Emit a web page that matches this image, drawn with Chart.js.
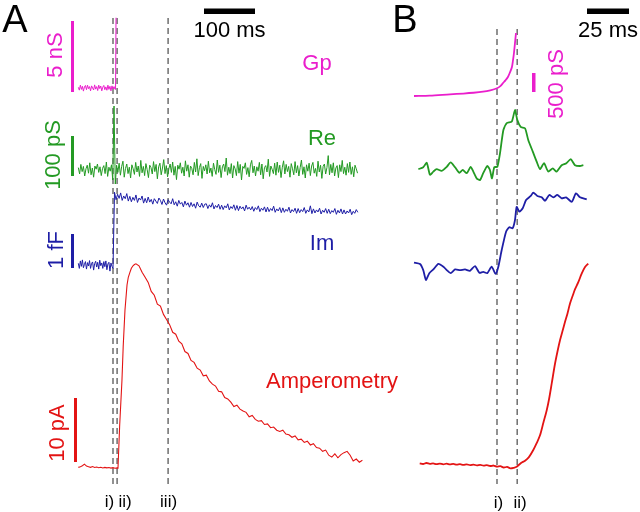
<!DOCTYPE html>
<html>
<head>
<meta charset="utf-8">
<script src="https://cdn.jsdelivr.net/npm/chart.js@4.4.0/dist/chart.umd.min.js"></script>
<style>
  html, body { margin: 0; padding: 0; background: #fff; }
  #wrap { position: relative; width: 640px; height: 512px; overflow: hidden; }
  #panelA { position: absolute; left: 0; top: 0; }
  #panelB { position: absolute; left: 380px; top: 0; }
</style>
</head>
<body>
<div id="wrap">
  <canvas id="panelA" width="420" height="512"></canvas>
  <canvas id="panelB" width="260" height="512"></canvas>
</div>
<script>
// ---------- Panel A (time in ms, 0 = event i) ----------
const markerTimesA = [0, 8, 108];
const markerLabelsA = ['i)', 'ii)', 'iii)'];

// Gp (nS)
const gpStartA = -68, gpStepA = 2;
const gpValsA = [0.05, -0.15, 0.2, -0.1, 0.12, -0.22, 0.08, 0.18, -0.12, 0.2, -0.05, 0.1, -0.2, 0.15, 0.0, -0.14, 0.22, -0.08, 0.1,
  -0.18, 0.2, -0.04, 0.14, -0.2, 0.06, 0.18, -0.12, 0.08, -0.16, 0.2, -0.1, 0.12, -0.2, 0.15, -0.06, 0.1, -0.1];
const gpRiseTimesA = [5, 5.9];
const gpRiseValsA = [0.0, 4.95];

// Re (pS)
const reStartA = -68, reStepA = 2.5;
const reValsA = [
  6, -10, 14, -4, 9, -15, 3, 12, -8, 18,
  -12, 5, -18, 10, 2, 15, -6, 8, -14, 4,
  11, -9, 20, -16, 7, -3, 13, -25, 160, -35,
  12, -6, 17, -13, 9, 22, -18, 4, 15, -9,
  7, -20, 13, 3, -11, 19, -5, 10, -16, 24,
  -7, 9, -14, 16, 1, -19, 12, 6, -10, 21,
  -4, 14, -22, 8, 17, -12, 5, 26, -9, 11,
  -17, 3, 15, -6, 20, -13, 9, -24, 12, 2,
  18, -8, 7, -15, 23, -3, 13, -18, 10, 4,
  -12, 19, -5, 28, -14, 6, 16, -21, 9, -2,
  13, -10, 22, -7, 5, -16, 17, 1, -11, 25,
  -6, 12, -19, 8, 15, -4, 30, -13, 7, -9,
  16, -20, 11, 3, -14, 21, -8, 14, -25, 9,
  4, 18, -11, 6, -17, 13, 24, -7, 10, -15,
  8, -3, 19, -12, 15, -22, 6, 11, -5, 27,
  -16, 10, 2, -9, 17, -13, 20, -6, 12, -19,
  7, 23, -10, 14, -4, 9, -18, 16, 3, -12,
  21, -7, 11, -15, 6, 25, -11, 8, -20, 13,
  -3, 17, -14, 10, 19, -8, 4, -16, 22, -5,
  12, -21, 9, 15, -10, 6, 36, -12, 14, -7,
  18, -15, 5, 11, -19, 13, -4, 24, -9, 7,
  -13, 16, -6, 20, -11, 8, -17, 12, 3, -8
];

// Im (fF)
const imPreStartA = -68, imPreStepA = 2;
const imPreValsA = [0.05, -0.1, 0.12, -0.04, 0.15, -0.08, 0.02, 0.1, -0.12, 0.07,
  -0.03, 0.13, -0.1, 0.05, 0.09, -0.15, 0.04, 0.11, -0.06, 0.08,
  -0.12, 0.14, -0.02, 0.06, -0.1, 0.1, -0.05, 0.12, -0.14, 0.03,
  0.08, -0.18, 0.06, -0.04, -0.1];
const imPostStartA = 3, imPostStepA = 3;
const imPostValsA = [
  2.14, 1.92, 2.08, 1.96, 2.12, 1.9, 2.03, 1.95, 2.1, 1.88,
  2.02, 1.86, 1.99, 1.9, 2.06, 1.84, 1.97, 1.91, 2.03, 1.82,
  1.96, 1.83, 2.0, 1.85, 1.93, 1.79, 1.95, 1.88, 1.81, 1.97,
  1.9, 1.78, 1.94, 1.83, 1.76, 1.92, 1.85, 1.8, 1.95, 1.77,
  1.86, 1.73, 1.9, 1.79, 1.84, 1.71, 1.88, 1.76, 1.83, 1.7,
  1.84, 1.72, 1.8, 1.67, 1.85, 1.74, 1.7, 1.82, 1.69, 1.79,
  1.8, 1.66, 1.77, 1.7, 1.83, 1.65, 1.75, 1.69, 1.79, 1.64,
  1.76, 1.63, 1.74, 1.68, 1.8, 1.62, 1.72, 1.66, 1.77, 1.61,
  1.75, 1.6, 1.73, 1.65, 1.71, 1.59, 1.76, 1.64, 1.7, 1.62,
  1.72, 1.58, 1.69, 1.63, 1.74, 1.57, 1.67, 1.61, 1.71, 1.56,
  1.7, 1.57, 1.66, 1.6, 1.73, 1.55, 1.65, 1.59, 1.69, 1.54,
  1.68, 1.55, 1.64, 1.58, 1.7, 1.53, 1.63, 1.57, 1.67, 1.52,
  1.66, 1.54, 1.63, 1.57, 1.69, 1.52, 1.62, 1.56, 1.74, 1.51,
  1.65, 1.53, 1.62, 1.56, 1.67, 1.5, 1.61, 1.55, 1.66, 1.52,
  1.64, 1.51, 1.6, 1.55, 1.66, 1.49, 1.61, 1.53, 1.65, 1.5,
  1.62, 1.5, 1.59, 1.53, 1.64, 1.48, 1.58, 1.52, 1.63, 1.55
];

// Amperometry (pA)
const ampPreTimesA = [-68, -64, -60, -56, -52, -48, -44, -40, -36, -32, -28, -24, -20, -16, -12, -8, -4, 0, 4, 8,
  9.8, 13, 17.6, 20, 23.5, 27.5, 30, 33.3, 36, 39.2, 42];
const ampPreValsA = [0.1, 0.2, 0.35, 0.6, 0.3, 0.2, 0.1, 0.22, 0.08, 0.15, 0.05, 0.12, 0.0, 0.1, 0.02, 0.08, -0.02, 0.06, -0.04, 0.02,
  0.0, 6.5, 13.75, 19, 24.7, 28.6, 29.8, 30.6, 31.2, 31.6, 31.8];
const ampDecayStartA = 45, ampDecayStepA = 6;
const ampDecayValsA = [
  31.9, 31.6, 30.6, 29.8, 29.0, 27.6, 27.0, 25.6, 25.3, 24.0,
  23.2, 22.4, 21.2, 20.9, 19.8, 19.4, 18.2, 17.9, 16.8, 16.5,
  15.6, 15.3, 14.4, 14.5, 13.6, 13.1, 12.8, 12.0, 11.9, 11.0,
  10.8, 10.3, 9.6, 9.8, 9.2, 8.9, 8.7, 8.0, 8.2, 7.6,
  7.3, 7.4, 6.8, 6.9, 6.3, 6.4, 5.9, 5.7, 5.9, 5.3,
  5.2, 4.8, 5.0, 4.4, 4.5, 4.0, 4.2, 3.6, 3.8, 3.2,
  3.1, 2.6, 2.8, 2.0, 1.7, 2.2, 1.6, 2.1, 2.4, 2.6,
  2.0, 1.1, 1.4, 0.9, 1.2
];

// ---------- Panel B (time in ms, 0 = event i) ----------
const markerTimesB = [0, 12];
const markerLabelsB = ['i)', 'ii)'];

// Gp (pS)
const gpTimesB = [-49.4, -40, -28, -20, -14, -8.3, -4, 0, 2, 3.6, 5, 6.5, 7.7, 8.9, 9.5, 10.1, 11.3];
const gpValsB = [0, 10, 45, 65, 85, 113, 150, 203, 260, 342, 410, 500, 620, 763, 930, 1131, 1658];

// Re (pS)
const reTimesB = [-46.8, -43.9, -41.8, -39.9, -37.9, -35.9, -32.9, -29.9, -27.6, -25.0, -22.4, -20.4, -18.0, -15.7, -14.1,
  -12.1, -10.1, -8.2, -5.8, -4.2, -3.0, -1.6, 0.2, 1.8, 3.8, 5.8, 8.8, 10.7, 12.1, 14.1,
  16.7, 18.6, 21.3, 23.6, 25.6, 28.0, 30.5, 33.2, 35.5, 38.5, 41.3, 43.9, 46.4, 49.4, 51.4];
const reValsB = [2, 7, 18, -12, -4, 2, -2, 8, 19, 7, -7, 0, -8, 8, -4,
  -21, -25, -8, 10, 0, -21, 7, 8, 42, 100, 117, 121, 150, 125, 108,
  104, 75, 46, 21, 2, 17, -4, 4, -4, 12, 17, 27, 12, 10, 12];

// Im (fF)
const imTimesB = [-49.4, -45.8, -43.9, -42.3, -40.3, -37.9, -34.9, -31.9, -29.9, -27.6, -25.0, -22.0, -19.0, -16.1, -13.1,
  -10.5, -8.2, -5.8, -3.2, -0.8, 0.8, 2.8, 5.4, 7.3, 9.3, 10.7, 11.7, 13.3, 15.3, 17.3,
  20.1, 21.6, 24.0, 26.6, 28.6, 31.1, 33.5, 35.9, 38.5, 41.1, 44.5, 47.0, 49.4, 53.4];
const imValsB = [0.07, 0.03, -0.15, -0.44, -0.24, -0.13, 0.03, -0.05, -0.15, -0.24, -0.13, -0.15, -0.13, -0.17, -0.03,
  -0.23, -0.2, -0.24, -0.05, -0.26, -0.05, 0.44, 0.98, 1.11, 1.08, 1.32, 1.71, 1.57, 1.67, 1.91,
  2.03, 2.13, 2.03, 1.99, 1.89, 2.06, 1.99, 2.06, 1.96, 1.99, 1.86, 2.11, 1.99, 1.93];

// Amperometry (pA)
const ampTimesB = [-46, -44, -42, -40, -38, -36, -34, -32, -30, -28, -26, -24, -22, -20, -18, -16, -14, -12, -10, -8,
  -6, -4, -2, 0, 2, 4, 6, 8, 10, 11.7, 14.3, 16.7, 19, 21.6, 23.6, 25.6, 27.6, 29.6, 31, 32.6,
  34.5, 36, 37.5, 39, 40.5, 42, 43.5, 45, 46.4, 48.4, 50.4, 52.4, 54.3];
const ampValsB = [0.26, 0.15, 0.3, 0.18, 0.25, 0.12, 0.22, 0.1, 0.2, 0.08, 0.16, 0.05, 0.12, 0.02, 0.1, -0.03, 0.06, -0.06, 0.02, -0.1,
  -0.02, -0.15, -0.08, -0.26, -0.18, -0.38, -0.3, -0.5, -0.42, -0.26, 0.3, 0.65, 1.2, 2.27, 3.3, 4.5, 6.4, 8.3, 10, 12.4,
  15.3, 17.2, 18.9, 20.3, 21.7, 23, 24.5, 25.6, 26.6, 27.7, 29.0, 30.0, 30.5];

// ---------- styles ----------
const MAGENTA = '#ea1ecc';
const GREEN = '#239a23';
const BLUE = '#1e1ea6';
const RED = '#e31414';
const FONT = "'Liberation Sans', Arial, sans-serif";

// helpers
function sampled(start, step, vals) { return vals.map((v, i) => ({ x: start + i * step, y: v })); }
function paired(times, vals) { return vals.map((v, i) => ({ x: times[i], y: v })); }
// range of a hidden axis so that value 0 sits at basePx and one unit spans pxPerUnit
function yRange(basePx, pxPerUnit, h) { return { type: 'linear', display: false, min: -(h - basePx) / pxPerUnit, max: basePx / pxPerUnit }; }
function xRange(zeroPx, pxPerUnit, w) { return { type: 'linear', display: false, min: -zeroPx / pxPerUnit, max: (w - zeroPx) / pxPerUnit }; }

function trace(data, axis, color, width, tension) {
  return { data, yAxisID: axis, borderColor: color, borderWidth: width, pointRadius: 0, tension: tension || 0, fill: false };
}

// draws event markers, scale bars and labels
function figurePlugin(cfg) {
  return {
    id: 'figure',
    beforeDatasetsDraw(chart) {
      const ctx = chart.ctx, xs = chart.scales.x;
      ctx.save();
      ctx.strokeStyle = '#4a4a4a';
      ctx.lineWidth = 1.2;
      ctx.setLineDash([6, 4]);
      cfg.markers.forEach(t => {
        const px = xs.getPixelForValue(t);
        ctx.beginPath();
        ctx.moveTo(px, cfg.markerTop);
        ctx.lineTo(px, cfg.markerBottom);
        ctx.stroke();
      });
      ctx.restore();
    },
    afterDatasetsDraw(chart) {
      const ctx = chart.ctx, xs = chart.scales.x;
      ctx.save();
      cfg.bars.forEach(b => {
        const s = chart.scales[b.axis];
        const len = Math.abs(s.getPixelForValue(b.size) - s.getPixelForValue(0));
        ctx.fillStyle = b.color;
        if (b.axis === 'x') ctx.fillRect(b.left, b.top, len, b.thick);
        else ctx.fillRect(b.left, b.bottom - len, b.thick, len);
      });
      cfg.texts.forEach(t => {
        ctx.save();
        ctx.translate(t.x, t.y);
        if (t.rotate) ctx.rotate(t.rotate * Math.PI / 180);
        ctx.font = t.size + 'px ' + FONT;
        ctx.fillStyle = t.color || '#000';
        ctx.textAlign = t.align || 'center';
        ctx.textBaseline = 'alphabetic';
        ctx.fillText(t.text, 0, 0);
        ctx.restore();
      });
      ctx.font = cfg.markerFont + 'px ' + FONT;
      ctx.fillStyle = '#000';
      ctx.textAlign = 'center';
      cfg.markers.forEach((t, i) => {
        ctx.fillText(cfg.markerLabels[i], xs.getPixelForValue(t) + cfg.markerLabelShift[i], cfg.markerLabelY);
      });
      ctx.restore();
    }
  };
}

function baseOptions(scales) {
  return {
    responsive: false,
    animation: false,
    devicePixelRatio: 1,
    layout: { padding: 0 },
    plugins: { legend: { display: false }, tooltip: { enabled: false } },
    scales
  };
}

// ---------- Panel A chart ----------
const gpDataA = sampled(gpStartA, gpStepA, gpValsA).concat(paired(gpRiseTimesA, gpRiseValsA));
const imDataA = sampled(imPreStartA, imPreStepA, imPreValsA).concat(sampled(imPostStartA, imPostStepA, imPostValsA));
const ampDataA = paired(ampPreTimesA, ampPreValsA).concat(sampled(ampDecayStartA, ampDecayStepA, ampDecayValsA));

new Chart(document.getElementById('panelA'), {
  type: 'line',
  data: {
    datasets: [
      trace(gpDataA, 'yGp', MAGENTA, 1),
      trace(sampled(reStartA, reStepA, reValsA), 'yRe', GREEN, 1),
      trace(imDataA, 'yIm', BLUE, 1),
      trace(ampDataA, 'yAmp', RED, 1.1)
    ]
  },
  options: baseOptions({
    x: xRange(113, 0.51, 420),
    yGp: yRange(88, 14.2, 512),
    yRe: yRange(170, 0.4, 512),
    yIm: yRange(265, 34, 512),
    yAmp: yRange(468, 6.4, 512)
  }),
  plugins: [figurePlugin({
    markers: markerTimesA, markerLabels: markerLabelsA, markerLabelShift: [-3.5, 8, 0.5],
    markerTop: 18, markerBottom: 487, markerLabelY: 507, markerFont: 17,
    bars: [
      { axis: 'x', size: 100, left: 204, top: 8.5, thick: 5.5, color: '#000' },
      { axis: 'yGp', size: 5, left: 71, bottom: 92, thick: 3, color: MAGENTA },
      { axis: 'yRe', size: 100, left: 71, bottom: 176, thick: 3, color: GREEN },
      { axis: 'yIm', size: 1, left: 71, bottom: 268, thick: 3, color: BLUE },
      { axis: 'yAmp', size: 10, left: 74, bottom: 462, thick: 3, color: RED }
    ],
    texts: [
      { text: 'A', x: 15, y: 32, size: 38 },
      { text: '100 ms', x: 229.5, y: 37, size: 22 },
      { text: 'Gp', x: 317, y: 70, size: 22, color: MAGENTA },
      { text: 'Re', x: 322, y: 145, size: 22, color: GREEN },
      { text: 'Im', x: 322, y: 250, size: 22, color: BLUE },
      { text: 'Amperometry', x: 332, y: 388, size: 22, color: RED },
      { text: '5 nS', x: 62, y: 55, size: 22, rotate: -90, color: MAGENTA },
      { text: '100 pS', x: 60, y: 155, size: 22, rotate: -90, color: GREEN },
      { text: '1 fF', x: 63, y: 250, size: 22, rotate: -90, color: BLUE },
      { text: '10 pA', x: 64, y: 433, size: 22, rotate: -90, color: RED }
    ]
  })]
});

// ---------- Panel B chart ----------
new Chart(document.getElementById('panelB'), {
  type: 'line',
  data: {
    datasets: [
      trace(paired(gpTimesB, gpValsB), 'yGp', MAGENTA, 1.8, 0.3),
      trace(paired(reTimesB, reValsB), 'yRe', GREEN, 1.8, 0.2),
      trace(paired(imTimesB, imValsB), 'yIm', BLUE, 1.8, 0.2),
      trace(paired(ampTimesB, ampValsB), 'yAmp', RED, 1.8, 0.3)
    ]
  },
  options: baseOptions({
    x: xRange(117, 1.68, 260),
    yGp: yRange(96, 0.038, 512),
    yRe: yRange(170, 0.4, 512),
    yIm: yRange(265, 34, 512),
    yAmp: yRange(465, 6.6, 512)
  }),
  plugins: [figurePlugin({
    markers: markerTimesB, markerLabels: markerLabelsB, markerLabelShift: [1.5, 3],
    markerTop: 29, markerBottom: 484, markerLabelY: 508, markerFont: 17,
    bars: [
      { axis: 'x', size: 25, left: 207, top: 8.5, thick: 5.5, color: '#000' },
      { axis: 'yGp', size: 500, left: 152, bottom: 92, thick: 3.5, color: MAGENTA }
    ],
    texts: [
      { text: 'B', x: 25, y: 32, size: 38 },
      { text: '25 ms', x: 228, y: 37, size: 22 },
      { text: '500 pS', x: 183, y: 84, size: 22, rotate: -90, color: MAGENTA }
    ]
  })]
});
</script>
</body>
</html>
